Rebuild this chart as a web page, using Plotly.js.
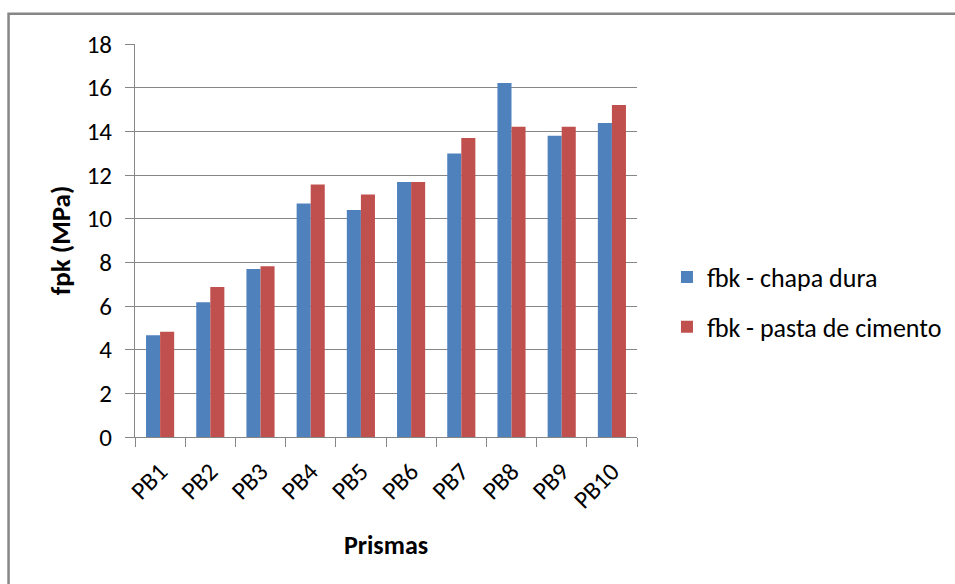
<!DOCTYPE html>
<html>
<head>
<meta charset="utf-8">
<script src="https://cdn.plot.ly/plotly-3.0.1.min.js"></script>
<style>
  html, body { margin: 0; padding: 0; background: #ffffff; }
  #chart { width: 955px; height: 584px; }
</style>
</head>
<body>
<div id="chart"></div>
<script>
// Prism labels along the x axis
const prismas = ['PB1', 'PB2', 'PB3', 'PB4', 'PB5', 'PB6', 'PB7', 'PB8', 'PB9', 'PB10'];

// Characteristic strength (MPa) for each capping method
const fbkChapaDura = [4.66, 6.17, 7.69, 10.70, 10.40, 11.68, 12.99, 16.21, 13.80, 14.38];
const fbkPastaCimento = [4.82, 6.87, 7.82, 11.57, 11.11, 11.68, 13.69, 14.21, 14.21, 15.21];

const seriesNames = ['fbk - chapa dura', 'fbk - pasta de cimento'];
const yTicks = [0, 2, 4, 6, 8, 10, 12, 14, 16, 18];

const FONT = 'Carlito, Lato, "Open Sans", sans-serif';
const GRID = '#868686';

const traces = [
  {
    type: 'bar',
    name: seriesNames[0],
    x: prismas,
    y: fbkChapaDura,
    legendgroup: 'a',
    marker: { color: '#4F81BD', line: { width: 0 } },
    hoverinfo: 'x+y+name'
  },
  {
    type: 'bar',
    name: seriesNames[1],
    x: prismas,
    y: fbkPastaCimento,
    legendgroup: 'b',
    marker: { color: '#C0504D', line: { width: 0 } },
    hoverinfo: 'x+y+name'
  }
];

const layout = {
  width: 955,
  height: 584,
  margin: { l: 135, r: 318, t: 44, b: 147, pad: 0 },
  paper_bgcolor: '#ffffff',
  plot_bgcolor: '#ffffff',
  font: { family: FONT, size: 25, color: '#000000' },
  barmode: 'group',
  bargap: 0.44,
  bargroupgap: 0,
  showlegend: true,
  legend: {
    xref: 'container',
    yref: 'container',
    x: 0.6984,
    xanchor: 'left',
    y: 0.4829,
    yanchor: 'middle',
    font: { family: FONT, size: 26, color: '#000000' },
    tracegroupgap: 13,
    traceorder: 'grouped',
    itemwidth: 30,
    bgcolor: 'rgba(0,0,0,0)'
  },
  xaxis: {
    type: 'category',
    automargin: false,
    showline: true,
    linecolor: GRID,
    linewidth: 1,
    showgrid: false,
    zeroline: false,
    ticks: 'outside',
    tickson: 'boundaries',
    ticklen: 9,
    tickcolor: GRID,
    tickwidth: 1,
    tickangle: -45,
    ticklabelstandoff: 9,
    tickfont: { family: FONT, size: 25, color: '#000000' },
    title: {
      text: '<b>Prismas</b>',
      font: { family: FONT, size: 26, color: '#000000' },
      standoff: 21
    }
  },
  yaxis: {
    range: [0, 18],
    automargin: false,
    tickmode: 'array',
    tickvals: yTicks,
    ticktext: yTicks.map(String),
    showline: true,
    linecolor: GRID,
    linewidth: 1,
    showgrid: true,
    gridcolor: GRID,
    gridwidth: 1,
    zeroline: false,
    ticks: 'outside',
    ticklen: 9,
    tickcolor: GRID,
    tickwidth: 1,
    ticklabelstandoff: 8,
    tickfont: { family: FONT, size: 25, color: '#000000' },
    title: {
      text: '<b>fpk (MPa)</b>',
      font: { family: FONT, size: 27, color: '#000000' },
      standoff: 8
    }
  },
  shapes: [
    {
      // outer chart frame
      type: 'rect',
      xref: 'paper', yref: 'paper',
      x0: -0.2519, x1: 1.7,
      y0: -0.6, y1: 1.0771,
      line: { color: '#868686', width: 2.5 },
      fillcolor: 'rgba(0,0,0,0)',
      layer: 'below'
    }
  ]
};

Plotly.newPlot('chart', traces, layout, { displayModeBar: false, staticPlot: true });
</script>
</body>
</html>
